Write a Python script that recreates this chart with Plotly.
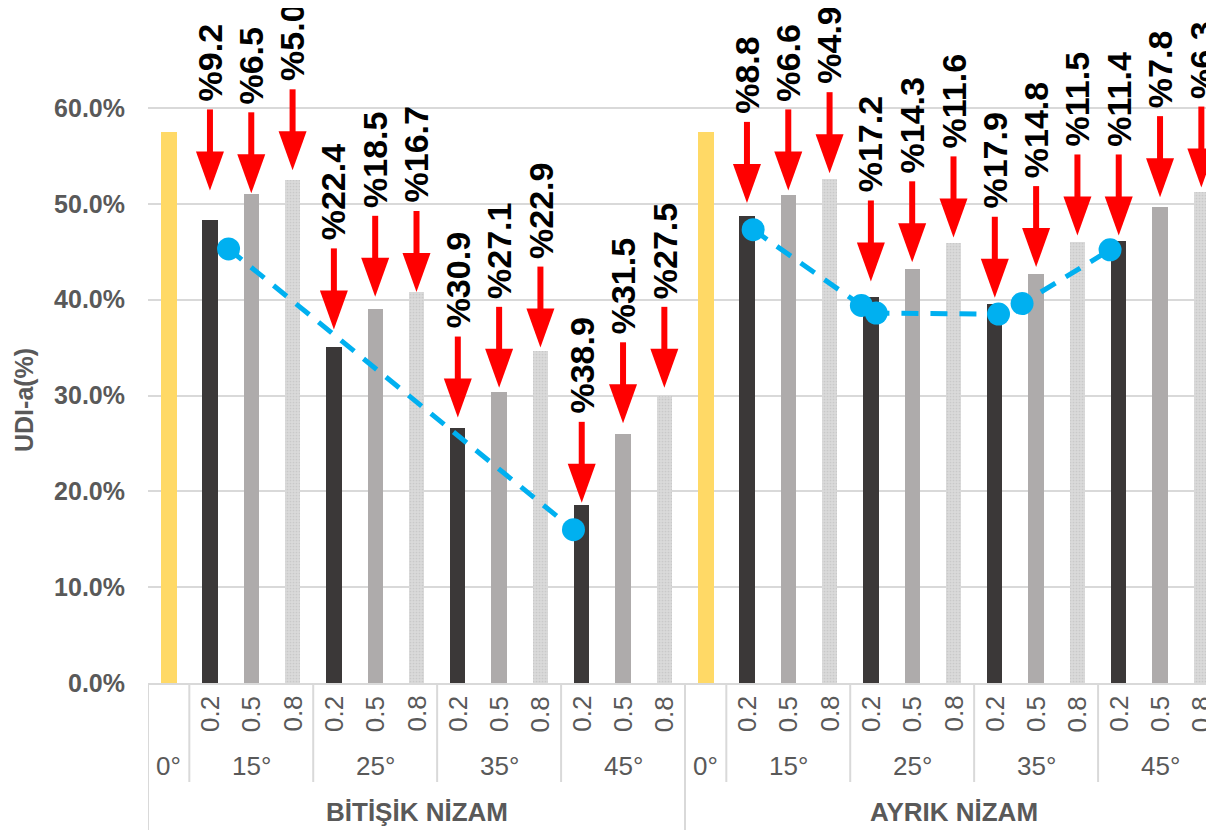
import plotly.graph_objects as go

# ---------------- data ----------------
groups = ["BİTİŞİK NİZAM", "AYRIK NİZAM"]
base_angle = "0°"
angles = ["15°", "25°", "35°", "45°"]
ratios = ["0.2", "0.5", "0.8"]

base_udi = [57.5, 57.5]                       # 0° reference bars
bitisik_02 = [48.3, 35.1, 26.6, 18.6]
bitisik_05 = [51.0, 39.0, 30.4, 26.0]
bitisik_08 = [52.5, 40.8, 34.6, 30.0]
ayrik_02 = [48.7, 40.3, 39.6, 46.1]
ayrik_05 = [50.9, 43.2, 42.7, 49.7]
ayrik_08 = [52.6, 45.9, 46.0, 51.2]

# decrease labels (percentage points), bar order 15°(0.2,0.5,0.8), 25°(...), ...
bitisik_drop = [9.2, 6.5, 5.0, 22.4, 18.5, 16.7, 30.9, 27.1, 22.9, 38.9, 31.5, 27.5]
ayrik_drop = [8.8, 6.6, 4.9, 17.2, 14.3, 11.6, 17.9, 14.8, 11.5, 11.4, 7.8, 6.3]
# arrow tip levels (UDI-a %)
bitisik_arrow_tip = [51.4, 51.1, 53.5, 36.9, 40.3, 40.8, 27.7, 30.8, 35.0, 18.8, 27.1, 30.8]
ayrik_arrow_tip = [50.1, 51.4, 53.2, 41.9, 43.9, 46.5, 40.2, 43.4, 46.7, 46.7, 50.7, 51.7]

# dashed trend markers (category position, UDI-a %)
trend_bitisik_x = [1.45, 9.80]
trend_bitisik_y = [45.3, 16.0]
trend_ayrik_x = [14.15, 16.77, 17.13, 20.09, 20.66, 22.79]
trend_ayrik_y = [47.3, 39.4, 38.6, 38.5, 39.6, 45.2]

y_ticks = [0, 10, 20, 30, 40, 50, 60]
y_ticktext = ["0.0%", "10.0%", "20.0%", "30.0%", "40.0%", "50.0%", "60.0%"]

# ---------------- layout constants ----------------
W, H = 1214, 833
BODY = 8                      # page body margin offset
ML = 148 - BODY
MT = 0
PLOT_BOTTOM_PAGE = 683
PLOT_H = PLOT_BOTTOM_PAGE - BODY - MT
MB = H - MT - PLOT_H
PLOT_W = W - ML
N_CAT = 26
X_MIN, X_MAX = -0.5, N_CAT - 0.5
CAT_PX = PLOT_W / N_CAT
Y_PX_PER_10 = 95.83
Y_MAX = PLOT_H / Y_PX_PER_10 * 10
PXY = Y_MAX / PLOT_H
PXX = (X_MAX - X_MIN) / PLOT_W

GRAY_TXT = "#595959"
SEP = "#D9D9D9"
FONT = "Liberation Sans, Arial, sans-serif"

n_per_group = 1 + len(angles) * len(ratios)


def pos(g, a=None, r=None):
    if a is None:
        return g * n_per_group
    return g * n_per_group + 1 + a * len(ratios) + r


def py(page_px):
    return (PLOT_BOTTOM_PAGE - page_px) / PLOT_H


def px_(page_px):
    return (page_px - (ML + BODY)) / PLOT_W


series_vals = [[bitisik_02, ayrik_02], [bitisik_05, ayrik_05], [bitisik_08, ayrik_08]]
colors = ["#3B3838", "#AEABAB", "#D9D9D9"]

fig = go.Figure()

fig.add_trace(go.Bar(
    x=[pos(g) for g in range(len(groups))], y=base_udi,
    width=0.38, marker=dict(color="#FFD966", line=dict(width=0)), showlegend=False))

for r in range(len(ratios)):
    xs, ys = [], []
    for g in range(len(groups)):
        for a in range(len(angles)):
            xs.append(pos(g, a, r))
            ys.append(series_vals[r][g][a])
    marker = dict(color=colors[r], line=dict(width=0))
    if r == 2:
        marker["pattern"] = dict(shape=".", fillmode="replace", bgcolor="#DADADA",
                                 fgcolor="#C9C9C9", size=3, solidity=0.25)
    fig.add_trace(go.Bar(x=xs, y=ys, width=0.37, marker=marker, showlegend=False))

for tx, ty in [(trend_bitisik_x, trend_bitisik_y), (trend_ayrik_x, trend_ayrik_y)]:
    fig.add_trace(go.Scatter(
        x=tx, y=ty, mode="lines+markers",
        line=dict(color="#00B0F0", width=5, dash="17px,12px"),
        marker=dict(size=23, color="#00B0F0"), showlegend=False))

shapes = []
annotations = []

# arrows + labels
drops = [bitisik_drop, ayrik_drop]
tips = [bitisik_arrow_tip, ayrik_arrow_tip]
for g in range(len(groups)):
    k = 0
    for a in range(len(angles)):
        for r in range(len(ratios)):
            x = pos(g, a, r)
            tip = tips[g][k]
            head_base = tip + 39 * PXY
            shaft_top = tip + 81 * PXY
            shapes.append(dict(type="line", xref="x", yref="y", x0=x, x1=x,
                               y0=head_base - 2 * PXY, y1=shaft_top,
                               line=dict(color="#FF0000", width=6), layer="above"))
            shapes.append(dict(type="path", xref="x", yref="y",
                               path=f"M {x - 14 * PXX},{head_base} L {x + 14 * PXX},{head_base} L {x},{tip} Z",
                               fillcolor="#FF0000", line=dict(width=0), layer="above"))
            annotations.append(dict(
                x=x, y=shaft_top, xref="x", yref="y", text=f"%{drops[g][k]:.1f}",
                textangle=-90, xanchor="center", yanchor="bottom", yshift=6,
                showarrow=False,
                font=dict(family=FONT, size=34, color="#000000", weight="bold")))
            k += 1

# category axis labels
for g in range(len(groups)):
    annotations.append(dict(x=pos(g), y=py(766), xref="x", yref="paper", text=base_angle,
                            showarrow=False, xanchor="center", yanchor="middle",
                            font=dict(family=FONT, size=26, color=GRAY_TXT)))
    for a in range(len(angles)):
        annotations.append(dict(x=pos(g, a, 1), y=py(766), xref="x", yref="paper", text=angles[a],
                                showarrow=False, xanchor="center", yanchor="middle",
                                font=dict(family=FONT, size=26, color=GRAY_TXT)))
        for r in range(len(ratios)):
            annotations.append(dict(x=pos(g, a, r), y=py(714), xref="x", yref="paper", text=ratios[r],
                                    textangle=-90, showarrow=False, xanchor="center", yanchor="middle",
                                    font=dict(family=FONT, size=26, color=GRAY_TXT)))
    annotations.append(dict(x=(pos(g) + pos(g, len(angles) - 1, len(ratios) - 1)) / 2, y=py(812),
                            xref="x", yref="paper", text=groups[g], showarrow=False,
                            xanchor="center", yanchor="middle",
                            font=dict(family=FONT, size=26, color=GRAY_TXT, weight="bold")))

    # separators
    shapes.append(dict(type="line", xref="x", yref="paper", x0=pos(g) - 0.5, x1=pos(g) - 0.5,
                       y0=0, y1=py(830), line=dict(color=SEP, width=2)))
    for a in range(len(angles)):
        xs = pos(g, a, 0) - 0.5
        shapes.append(dict(type="line", xref="x", yref="paper", x0=xs, x1=xs,
                           y0=0, y1=py(782), line=dict(color=SEP, width=2)))
last = pos(len(groups) - 1, len(angles) - 1, len(ratios) - 1) + 0.5
shapes.append(dict(type="line", xref="x", yref="paper", x0=last, x1=last, y0=0, y1=py(830),
                   line=dict(color=SEP, width=2)))

# y-axis title
annotations.append(dict(x=px_(24), y=py(400), xref="paper", yref="paper", text="UDI-a(%)",
                        textangle=-90, showarrow=False, xanchor="center", yanchor="middle",
                        font=dict(family=FONT, size=25, color=GRAY_TXT, weight="bold")))

fig.update_layout(
    width=W, height=H,
    margin=dict(l=ML, r=0, t=MT, b=MB, pad=0),
    plot_bgcolor="white", paper_bgcolor="white",
    barmode="overlay", bargap=0,
    shapes=shapes, annotations=annotations,
    xaxis=dict(range=[X_MIN, X_MAX], showticklabels=False, showgrid=False, zeroline=False,
               showline=True, linecolor=SEP, linewidth=2, ticks=""),
    yaxis=dict(range=[0, Y_MAX], tickvals=y_ticks, ticktext=y_ticktext,
               showgrid=True, gridcolor=SEP, gridwidth=2, zeroline=False,
               showline=False, ticks="", ticklabelstandoff=22,
               tickfont=dict(family=FONT, size=25, color=GRAY_TXT, weight="bold")),
    font=dict(family=FONT),
)

fig.write_html("out.html")
